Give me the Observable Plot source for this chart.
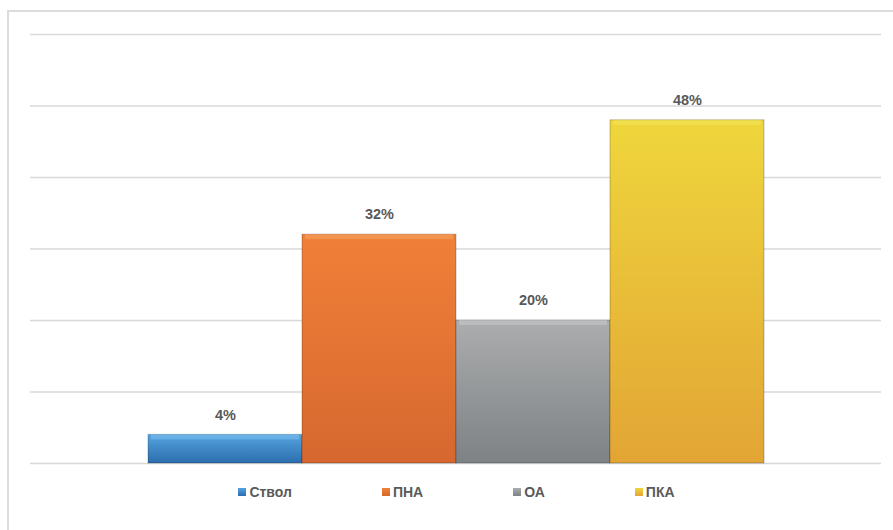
<!DOCTYPE html>
<html>
<head>
<meta charset="utf-8">
<script src="https://cdn.jsdelivr.net/npm/d3@7"></script>
<script src="https://cdn.jsdelivr.net/npm/@observablehq/plot@0.6"></script>
<style>
  html, body { margin: 0; padding: 0; background: #fff; }
  #wrap { position: relative; width: 893px; height: 530px; overflow: hidden; }
  #frame { position: absolute; left: 7px; top: 10px; width: 900px; height: 540px;
           border-left: 2px solid #dcdcdc; border-top: 2px solid #dcdcdc; box-sizing: border-box; }
  #chart { position: absolute; left: 0; top: 0; }
  #legend { position: absolute; left: 0; top: 484px; width: 913px; display: flex; justify-content: center;
            gap: 90px; font-family: "Liberation Sans", Arial, sans-serif; font-size: 14px; font-weight: bold;
            color: #5a5a5a; }
  #legend .item { display: flex; align-items: center; gap: 3px; }
  #legend .sw { width: 8px; height: 8px; display: inline-block; }
</style>
</head>
<body>
<div id="wrap">
  <div id="frame"></div>
  <div id="chart"></div>
  <div id="legend"></div>
</div>
<script>
const categories = ["Ствол", "ПНА", "ОА", "ПКА"];
const values = [4, 32, 20, 48];
const labels = ["4%", "32%", "20%", "48%"];
const topColors = ["#55a4e0", "#f08038", "#abadae", "#efd63c"];
const bottomColors = ["#2c6dad", "#d6682f", "#7e8285", "#e2a535"];
const bevelColors = ["#7cc0ee", "#f6a462", "#c8caca", "#f3e65a"];
const yTicks = [0, 10, 20, 30, 40, 50, 60];

const data = categories.map((c, i) => ({cat: c, value: values[i], label: labels[i]}));

const plot = Plot.plot({
  width: 893,
  height: 472,
  marginTop: 34,
  marginBottom: 9,
  marginLeft: 30,
  marginRight: 12,
  x: {domain: categories, paddingInner: 0, paddingOuter: 0.75, axis: null},
  y: {domain: [0, 60], axis: null},
  color: {domain: categories, range: categories.map((c, i) => `url(#g${i})`)},
  marks: [
    Plot.ruleY(yTicks, {stroke: "#d9d9d9", strokeWidth: 1.5}),
    Plot.barY(data, {x: "cat", y: "value", fill: "cat", stroke: "rgba(0,0,0,0.2)", strokeWidth: 1.2}),
    Plot.barY(data, {x: "cat", y1: "value", y2: "value", fill: d => bevelColors[categories.indexOf(d.cat)], insetBottom: -5, insetLeft: 3, insetRight: 3, fillOpacity: 0.55}),
    Plot.text(data, {x: "cat", y: "value", text: "label", dy: -20, fontSize: 14.5, fontWeight: "bold",
      fill: "#595959", fontFamily: "Liberation Sans, Arial, sans-serif"})
  ]
});

// gradients
const svg = d3.select(plot);
const defs = svg.insert("defs", ":first-child");
categories.forEach((c, i) => {
  const g = defs.append("linearGradient").attr("id", `g${i}`).attr("x1", 0).attr("y1", 0).attr("x2", 0).attr("y2", 1);
  g.append("stop").attr("offset", "0%").attr("stop-color", topColors[i]);
  g.append("stop").attr("offset", "100%").attr("stop-color", bottomColors[i]);
});

document.getElementById("chart").appendChild(plot);

const legend = document.getElementById("legend");
categories.forEach((c, i) => {
  const item = document.createElement("div");
  item.className = "item";
  const sw = document.createElement("span");
  sw.className = "sw";
  sw.style.background = `linear-gradient(${topColors[i]}, ${bottomColors[i]})`;
  const t = document.createElement("span");
  t.textContent = c;
  item.appendChild(sw);
  item.appendChild(t);
  legend.appendChild(item);
});
</script>
</body>
</html>
